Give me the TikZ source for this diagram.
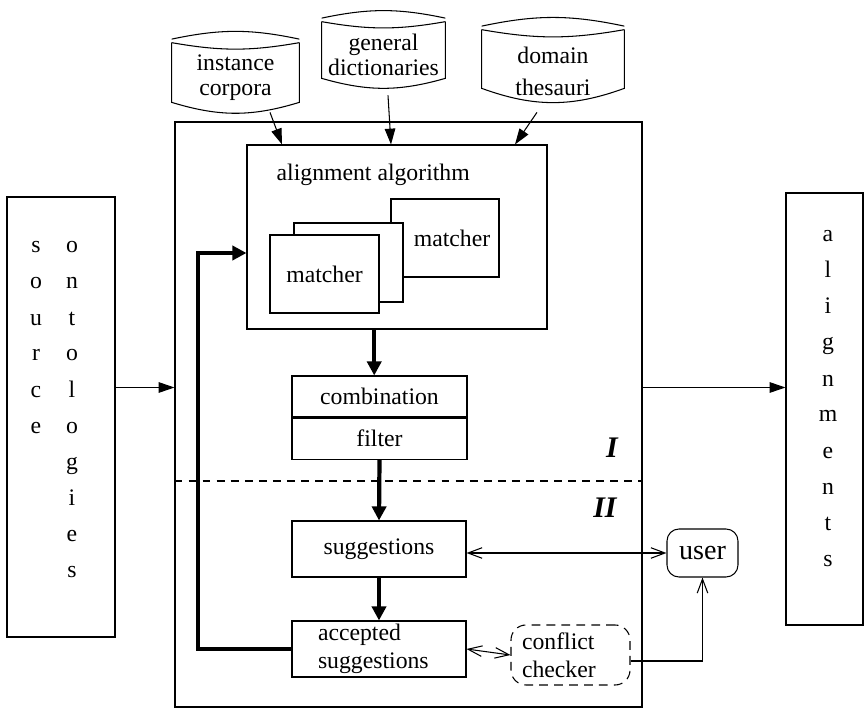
\documentclass[tikz,border=0pt]{standalone}
\usepackage{fontspec}
\setmainfont{Liberation Serif}
\usepackage{tkz-euclide}
\usepackage{tikz}
\usetikzlibrary{arrows.meta}

\begin{document}
\begin{tikzpicture}[
    every node/.style={font=\fontsize{13.5}{16}\selectfont},
    box/.style={draw, line width=0.6pt, inner sep=0pt},
    store/.style={inner sep=0pt},
    flow/.style={line width=0.6pt, -{Triangle[length=9pt,width=6pt]}},
    heavy/.style={line width=2.4pt, -{Triangle[length=8pt,width=8pt]}},
    ask/.style={line width=0.6pt, {Straight Barb[length=8pt,width=6pt]}-{Straight Barb[length=8pt,width=6pt]}},
    letter/.style={anchor=base, inner sep=0pt}]
    \useasboundingbox (0,0) rectangle (17.34,14.22);
    \tkzDefPoints{0/6.47/M,0/4.60/D,3.96/1.24/B}
    % SORGENTI
    \node[store, minimum width=2.54cm, minimum height=1.18cm,
      label={[align=center, font=\fontsize{13.5}{14.5}\selectfont, yshift=-0.1cm]center:instance\\corpora}] (inst) at (4.71,12.77) {};
    \node[store, minimum width=2.46cm, minimum height=1.12cm,
      label={[align=center, font=\fontsize{13.5}{14.5}\selectfont, yshift=-0.1cm]center:general\\dictionaries}] (gen) at (7.67,13.22) {};
    \node[store, minimum width=2.84cm, minimum height=1.16cm,
      label={[align=center, font=\fontsize{13.5}{14.5}\selectfont, yshift=-0.25cm]center:domain\\[4pt]thesauri}] (dom) at (11.06,13.04) {};
    \foreach \n/\b in {inst/17,gen/16,dom/20}{
      \draw[line width=0.6pt] ([yshift=2pt]\n.north west) to[bend left=12] ([yshift=2pt]\n.north east);
      \draw[line width=0.6pt] (\n.north west) to[bend right=10] (\n.north east);
      \draw[line width=0.6pt] (\n.north west) -- (\n.south west) to[bend right=\b] (\n.south east) -- (\n.north east);
    }
    % SISTEMA
    \node[box, minimum width=9.34cm, minimum height=11.70cm] (proc) at (8.17,5.93) {};
    \node[box, minimum width=6cm, minimum height=3.68cm] (algo) at (7.94,9.48) {};
    \node[anchor=west] (title) at ([xshift=0.48cm,yshift=-0.6cm]algo.north west) {alignment algorithm};
    \node[box, minimum width=2.16cm, minimum height=1.56cm, label={[xshift=0.14cm]center:matcher}] (m3) at (8.90,9.46) {};
    \node[box, fill=white, minimum width=2.18cm, minimum height=1.58cm] (m2) at (6.97,8.97) {};
    \node[box, fill=white, minimum width=2.18cm, minimum height=1.56cm] (m1) at (6.49,8.74) {matcher};
    \node[box, minimum width=3.5cm, minimum height=0.82cm] (comb) at (7.59,6.29) {combination};
    \node[box, minimum width=3.5cm, minimum height=0.82cm, anchor=north] (filt) at (comb.south) {filter};
    \node[box, minimum width=3.48cm, minimum height=1.12cm] (sugg) at (7.58,3.24) {suggestions};
    \node[box, minimum width=3.48cm, minimum height=1.12cm, text width=2.44cm, align=left] (acc) at (7.58,1.24) {accepted\\suggestions};
    \node[box, rounded corners=0.3cm, dash pattern=on 5pt off 3.5pt, minimum width=2.38cm, minimum height=1.2cm,
      text width=1.94cm, align=left] (conf) at (11.41,1.12) {conflict\\checker};
    \node[box, rounded corners=0.24cm, minimum width=1.42cm, minimum height=0.96cm,
      font=\fontsize{16}{18}\selectfont] (user) at (14.05,3.16) {user};
    \node[font=\fontsize{17}{20}\selectfont\bfseries\itshape] (ph1) at (12.24,5.26) {I};
    \node[font=\fontsize{17}{20}\selectfont\bfseries\itshape] (ph2) at (12.10,4.06) {II};
    \draw[line width=1pt, dash pattern=on 4.5pt off 3.5pt] (proc.west |- D) -- (proc.east |- D);
    % INGRESSO E USCITA
    \node[box, minimum width=2.16cm, minimum height=8.8cm] (src) at (1.22,5.88) {};
    \node[box, minimum width=1.54cm, minimum height=8.64cm] (out) at (16.49,6.04) {};
    \foreach \c [count=\i] in {s,o,u,r,c,e}
      \node[letter] (s\i) at (0.72,9.88-0.72*\i) {\c};
    \foreach \c [count=\i] in {o,n,t,o,l,o,g,i,e,s}
      \node[letter] (o\i) at (1.44,9.88-0.72*\i) {\c};
    \foreach \c [count=\i] in {a,l,i,g,n,m,e,n,t,s}
      \node[letter] (a\i) at (16.56,10.10-0.72*\i) {\c};
    % FRECCE
    \draw[flow] ([xshift=0.69cm,yshift=-0.2cm]inst.south) -- ([xshift=-2.30cm]algo.north);
    \draw[flow] ([xshift=0.09cm,yshift=-0.34cm]gen.south) -- ([xshift=-0.12cm]algo.north);
    \draw[flow] ([xshift=-0.32cm,yshift=-0.48cm]dom.south) -- ([xshift=2.36cm]algo.north);
    \draw[flow] (src.east |- M) -- (proc.west |- M);
    \draw[flow] (proc.east |- M) -- (out.west |- M);
    \draw[heavy] ([xshift=-3pt]comb.north |- algo.south) -- ([xshift=-3pt]comb.north);
    \draw[heavy] (filt.south) -- (sugg.north);
    \draw[heavy] (sugg.south) -- (acc.north);
    \draw[heavy] (acc.west) -- (B) |- ([yshift=-0.32cm]algo.west); %RITORNO
    \draw[ask] (sugg.east |- user.west) -- (user.west);
    \draw[ask] (acc.east) -- (conf.west);
    \draw[line width=0.6pt, -{Straight Barb[length=8pt,width=6pt]}] ([yshift=-0.12cm]conf.east) -| (user.south);
\end{tikzpicture}
\end{document}
